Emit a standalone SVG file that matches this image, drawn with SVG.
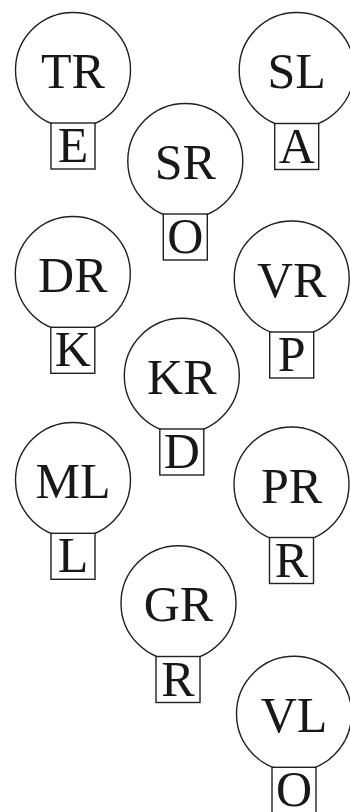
<svg xmlns="http://www.w3.org/2000/svg" width="350" height="812" viewBox="0 0 350 812">
<style>
.c{fill:#fff;stroke:#231f20;stroke-width:1.4}
.b{fill:#fff;stroke:#231f20;stroke-width:1.4}
.t{font-family:"Liberation Serif","Times New Roman",serif;font-size:50px;fill:#1a1718;text-anchor:middle}
</style>
<rect width="350" height="812" fill="#fff"/>
<g id="connectors"></g>
<g id="TR"><circle class="c" cx="73" cy="70" r="57.5"/><text class="t" x="73" y="88">TR</text><rect class="b" x="51" y="123" width="44" height="46"/><text class="t" x="73" y="162">E</text></g>
<g id="SL"><circle class="c" cx="296.7" cy="70" r="57.5"/><text class="t" x="296.7" y="88">SL</text><rect class="b" x="274.7" y="123.5" width="44" height="46"/><text class="t" x="296.7" y="162.5">A</text></g>
<g id="SR"><circle class="c" cx="185.3" cy="161" r="57.5"/><text class="t" x="185.3" y="179">SR</text><rect class="b" x="163.3" y="214" width="44" height="46"/><text class="t" x="185.3" y="253">O</text></g>
<g id="DR"><circle class="c" cx="72.8" cy="274" r="57.5"/><text class="t" x="72.8" y="292">DR</text><rect class="b" x="50.8" y="327.3" width="44" height="46"/><text class="t" x="72.8" y="366.3">K</text></g>
<g id="VR"><circle class="c" cx="291.7" cy="278.5" r="57.5"/><text class="t" x="291.7" y="296.5">VR</text><rect class="b" x="269.7" y="332" width="44" height="46"/><text class="t" x="291.7" y="371">P</text></g>
<g id="KR"><circle class="c" cx="181.8" cy="375.8" r="57.5"/><text class="t" x="181.8" y="393.8">KR</text><rect class="b" x="159.8" y="429" width="44" height="46"/><text class="t" x="181.8" y="468">D</text></g>
<g id="ML"><circle class="c" cx="73" cy="480" r="57.5"/><text class="t" x="73" y="498">ML</text><rect class="b" x="51" y="533.3" width="44" height="46"/><text class="t" x="73" y="572.3">L</text></g>
<g id="PR"><circle class="c" cx="291.5" cy="484.5" r="57.5"/><text class="t" x="291.5" y="502.5">PR</text><rect class="b" x="269.5" y="537.5" width="44" height="46"/><text class="t" x="291.5" y="576.5">R</text></g>
<g id="GR"><circle class="c" cx="178.5" cy="603.2" r="57.5"/><text class="t" x="178.5" y="621.2">GR</text><rect class="b" x="156" y="656.5" width="44" height="46"/><text class="t" x="178" y="695.5">R</text></g>
<g id="VL"><circle class="c" cx="294" cy="713.8" r="57.5"/><text class="t" x="294" y="731.8">VL</text><rect class="b" x="272" y="767.3" width="44" height="46"/><text class="t" x="294" y="806.3">O</text></g>
</svg>
